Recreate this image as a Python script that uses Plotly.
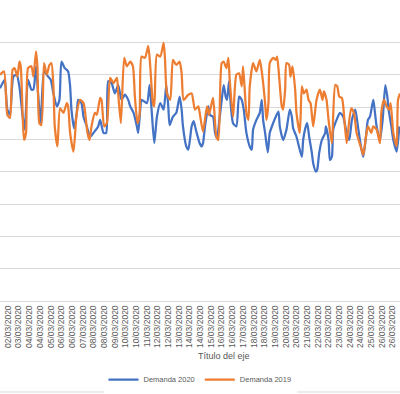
import pandas as pd
import plotly.graph_objects as go

# hours since 01/03/2020 00:00 and demand (MW)
hours_2020 = [28,32,35,39,43,48,53,57,62,65,70,75,78,82,85,89,94,100,104,108,113,117,120,125,130,133,135,139,143,145,150,153,158,163,168,175,178,183,187,190,195,200,205,210,215,220,223,228,233,235,238,240,248,252,255,259,263,268,273,277,280,282,287,292,297,300,302,307,310,315,318,322,327,
              330,332,335,340,342,347,350,353,356,360,363,366,368,371,373,377,382,386,390,393,397,402,405,407,412,417,420,422,425,429,432,437,441,445,447,452,457,462,465,467,472,480,482,486,488,491,495,497,501,503,506,510,515,516,520,522,525,527,532,537,542,547,551,555,560,564,569,572,576,579,582,587,589,592,597,601,605,608,610,614,617,622,626]
demanda_2020 = [32900,33700,34200,29600,28800,34700,35000,33200,28500,26500,34200,32700,32700,36300,32100,27500,35500,34700,34200,32100,30100,31100,37000,36000,35500,33200,29600,26700,29100,31100,30600,28500,27000,25400,26000,27000,28000,26000,26000,34000,33700,32100,33400,31100,31900,31100,30100,29100,27000,26000,29600,31100,30600,33400,29600,24400,28500,30600,29600,33400,30100,27200,28500,29100,31600,29600,27000,23900,23400,27000,27800,26200,24400,
                23900,24400,27000,30100,28800,28500,26000,25200,27500,31100,33400,31600,31100,34000,31100,27500,27000,31600,31100,29600,26000,23900,23400,26500,28000,29100,31100,28000,26000,23000,26000,27500,28500,29300,27000,24900,26500,29600,28500,26700,25400,22300,24900,27000,27500,25400,22900,21300,20000,20300,22900,24900,26000,27000,24900,21800,22300,26500,28000,29100,28500,26000,24900,28000,29600,27000,23600,22300,25400,28000,28500,31100,29600,27000,24900,28000,33400,31600,29600,27000,24900,23100,27000]

hours_2019 = [28,34,39,43,47,50,54,57,59,62,64,67,70,75,78,82,84,87,90,94,98,102,105,108,110,114,118,123,128,130,133,138,143,148,153,155,159,162,165,170,173,178,180,184,188,193,198,203,205,209,214,218,223,227,230,234,237,240,245,250,253,257,259,263,268,273,275,278,283,287,292,297,300,303,310,315,320,325,
              327,332,338,341,347,352,355,360,363,367,370,372,377,382,386,390,392,397,400,402,407,412,417,420,425,427,430,432,437,441,443,446,450,452,455,457,461,463,466,470,472,477,480,483,487,490,493,497,502,507,511,513,517,520,525,530,533,536,540,542,547,549,554,558,562,569,572,576,579,584,587,592,597,599,603,607,611,613,617,622,624,627]
demanda_2019 = [35000,35500,28800,28300,35800,36000,34700,37000,36300,28500,24900,26000,36000,36300,34700,38600,36300,27500,27200,36800,35000,36500,36800,33200,27000,23900,29800,29100,30600,30100,26000,23100,29100,31100,30600,29600,26000,24900,27000,29100,28800,31400,31100,27000,27500,34500,33700,34500,32100,27500,37600,36300,37000,36300,31600,27500,28800,37800,37600,39400,36300,30600,30100,38100,37800,39900,37600,32100,31100,37300,36500,37000,35200,31100,31900,32100,29600,30100,
                29100,26200,30100,28800,31400,25400,24900,36800,37000,36000,37600,34200,28500,35000,35200,33200,36300,29100,28000,33200,36800,35500,37300,35500,30600,28000,30600,36800,37600,37300,37800,34700,30100,29600,32700,36800,36500,34700,36300,32700,29100,26000,33200,32100,32700,31100,30600,27000,31100,32700,31100,32400,31100,28000,24400,33400,33200,31600,31400,30100,24400,26000,29800,29100,26000,23600,22600,25400,27000,26000,27000,26500,24400,29100,31100,30100,29600,30600,26000,23900,31100,32100]

base = pd.Timestamp("2020-03-01 00:00")
x2020 = base + pd.to_timedelta(hours_2020, unit="h")
x2019 = base + pd.to_timedelta(hours_2019, unit="h")

tick_times = pd.date_range("2020-03-02 00:00", "2020-03-27 12:00", freq="16h")
tick_labels = [t.strftime("%d/%m/%Y") for t in tick_times]

grey = "#595959"
fig = go.Figure()
fig.add_trace(go.Scatter(x=x2020, y=demanda_2020, mode="lines", name="Demanda 2020",
                         line=dict(color="#4472C4", width=2.25, shape="spline", smoothing=0.6)))
fig.add_trace(go.Scatter(x=x2019, y=demanda_2019, mode="lines", name="Demanda 2019",
                         line=dict(color="#ED7D31", width=2.25, shape="spline", smoothing=0.6)))

fig.update_layout(
    width=400, height=394,
    margin=dict(l=0, r=0, t=10, b=93),
    paper_bgcolor="white", plot_bgcolor="white",
    showlegend=True,
    legend=dict(orientation="h", x=0.5, xanchor="center", y=-0.27, yanchor="middle",
                font=dict(family="Liberation Sans", size=7.5, color=grey),
                itemwidth=30, traceorder="normal"),
    font=dict(family="Liberation Sans", color=grey),
)
fig.update_xaxes(
    type="date",
    range=[base + pd.Timedelta(hours=28), base + pd.Timedelta(hours=627)],
    tickmode="array", tickvals=tick_times, ticktext=tick_labels,
    tickangle=-90, tickfont=dict(size=8.5, color=grey, family="Liberation Sans"),
    showgrid=False, showline=True, linecolor="#d9d9d9", linewidth=1, ticks="",
)
fig.update_yaxes(
    range=[0, 45000], dtick=5000, showticklabels=False,
    showgrid=True, gridcolor="#d9d9d9", gridwidth=1, zeroline=False,
)
fig.add_annotation(text="Título del eje", xref="paper", yref="paper", x=0.56, y=-0.19,
                   xanchor="center", yanchor="middle", showarrow=False,
                   font=dict(size=9, color=grey, family="Liberation Sans"))
fig.add_shape(type="line", xref="paper", yref="paper", x0=0, x1=1, y0=-0.3127, y1=-0.3127,
              line=dict(color="#d9d9d9", width=1))

fig.write_html("out.html", config={"displayModeBar": False},
               post_script="document.body.style.margin='0';document.body.style.padding='0';")
